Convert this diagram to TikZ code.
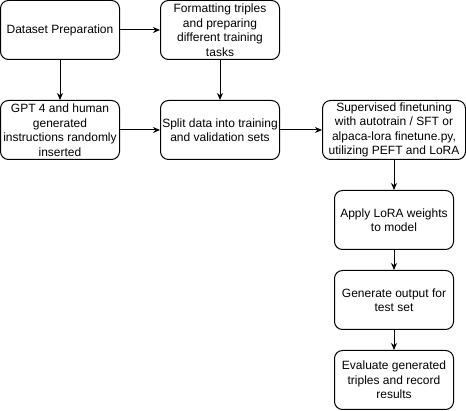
\documentclass[tikz,border=0pt]{standalone}
\usepackage{fontspec}
\setmainfont{Liberation Sans}
\usetikzlibrary{arrows.meta,positioning}

\begin{document}
\begin{tikzpicture}[
    node distance=40pt,
    >={Stealth[length=7pt,width=6pt]},
    line width=1pt,
    box/.style={draw, rectangle, rounded corners=8pt, minimum width=119pt, minimum height=59pt, align=center, inner sep=1pt, font=\fontsize{12}{14.5}\selectfont},
    wide/.style={box, minimum width=143pt}
]
    \useasboundingbox (0,0) rectangle (466pt,-411pt);

    % Data preparation
    \node[box] at (60pt,-30pt) (prep) {Dataset Preparation};
    \node[box, right=of prep] (fmt) {Formatting triples\\and preparing\\different training\\tasks};

    % Instructions and splitting
    \node[box, below=of prep] (gpt) {GPT 4 and human\\generated\\instructions randomly\\inserted};
    \node[box, below=of fmt] (split) {Split data into training\\and validation sets};

    % Training
    \node[wide, right=42pt of split] (sft) {Supervised finetuning\\with autotrain / SFT or\\alpaca-lora finetune.py,\\utilizing PEFT and LoRA};

    % Evaluation
    \node[box, below=30pt of sft] (lora) {Apply LoRA weights\\to model};
    \node[box, below=20pt of lora] (gen) {Generate output for\\test set};
    \node[box, below=20pt of gen] (eval) {Evaluate generated\\triples and record\\results};

    % Arrows
    \draw[->] (prep) -- (fmt);
    \draw[->] (prep) -- (gpt);
    \draw[->] (fmt) -- (split);
    \draw[->] (gpt) -- (split);
    \draw[->] (split) -- (sft);
    \draw[->] (sft) -- (lora);
    \draw[->] (lora) -- (gen);
    \draw[->] (gen) -- (eval);
\end{tikzpicture}
\end{document}
